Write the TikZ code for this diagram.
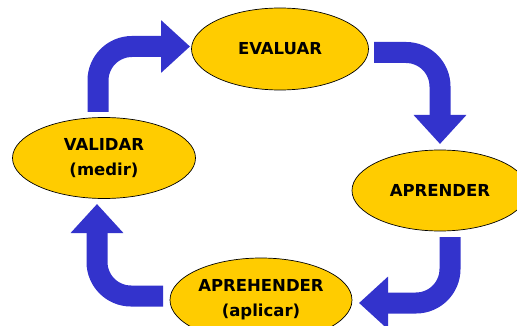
\documentclass[tikz,border=0pt]{standalone}
\usepackage{fontspec}
\setmainfont{DejaVu Sans}
\usetikzlibrary{shapes.geometric,arrows.meta}
\definecolor{arrowblue}{HTML}{3333CC}
\definecolor{ovalyellow}{HTML}{FFCC00}
\begin{document}
\begin{tikzpicture}[x=1pt,y=-1pt,
  oval/.style={ellipse,draw=black,line width=0.7pt,fill=ovalyellow,inner sep=0pt,
    align=center,font=\fontsize{16.5}{25}\selectfont\bfseries},
  barrow/.style={draw=arrowblue,line width=21pt,rounded corners=34pt,
    -{Triangle[length=29pt,width=51pt]}}]
\useasboundingbox (0,0) rectangle (517,326);
\node[oval,minimum width=177pt,minimum height=82pt] (eval) at (280,49) {EVALUAR};
\node[oval,minimum width=183pt,minimum height=81pt] (val) at (104,158) {VALIDAR\\(medir)};
\node[oval,minimum width=176pt,minimum height=81pt] (apr) at (440,190.5) {APRENDER};
\node[oval,minimum width=182pt,minimum height=84pt] (aph) at (261,300) {APREHENDER\\(aplicar)};
\coordinate (s1) at (98,112);
\coordinate (e1) at (190,46.5);
\coordinate (s2) at (374,52.5);
\coordinate (e2) at (440,144);
\coordinate (s3) at (450,237);
\coordinate (e3) at (359,303);
\coordinate (s4) at (163,296);
\coordinate (e4) at (97,204);
\draw[barrow] (s1) |- (e1);
\draw[barrow] (s2) -| (e2);
\draw[barrow] (s3) |- (e3);
\draw[barrow] (s4) -| (e4);
\end{tikzpicture}
\end{document}
